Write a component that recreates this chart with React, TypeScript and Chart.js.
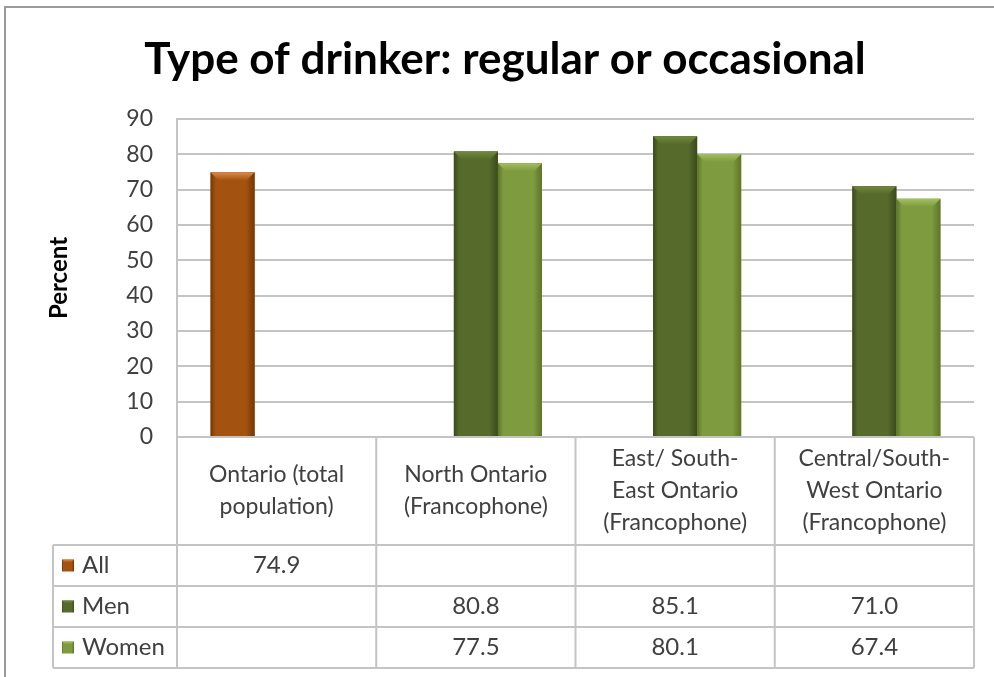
import React, { useEffect, useRef } from 'react';
import { Chart, registerables } from 'chart.js';

Chart.register(...registerables);

// ---- data ----
const chartTitle = 'Type of drinker: regular or occasional';
const yAxisTitle = 'Percent';
const categories: string[][] = [
  ['Ontario (total', 'population)'],
  ['North Ontario', '(Francophone)'],
  ['East/ South-', 'East Ontario', '(Francophone)'],
  ['Central/South-', 'West Ontario', '(Francophone)'],
];
const seriesNames = ['All', 'Men', 'Women'];
const allValues: (number | null)[] = [74.9, null, null, null];
const menValues: (number | null)[] = [null, 80.8, 85.1, 71.0];
const womenValues: (number | null)[] = [null, 77.5, 80.1, 67.4];
const yMin = 0;
const yMax = 90;
const yStep = 10;

// ---- styles ----
const baseColors = ['#A4520F', '#566A2C', '#7E9B3F'];
const topColors = ['#D98A4A', '#71893D', '#A2C060'];
const edgeColors = ['#733806', '#3A4A1C', '#5C7528'];
const textColor = '#404040';
const gridColor = '#C4C4C4';
const FONT = 'Lato, "Open Sans", sans-serif';

function drawBevel(ctx: CanvasRenderingContext2D, left: number, top: number, right: number, bottom: number, idx: number) {
  const w = right - left;
  if (w <= 0 || bottom - top <= 0) return;
  ctx.save();
  const g = ctx.createLinearGradient(left, 0, right, 0);
  g.addColorStop(0, edgeColors[idx]);
  g.addColorStop(0.12, baseColors[idx]);
  g.addColorStop(0.8, baseColors[idx]);
  g.addColorStop(1, edgeColors[idx]);
  ctx.fillStyle = g;
  ctx.fillRect(left, top, w, bottom - top);
  const bev = Math.min(8, (bottom - top) / 2, w / 4);
  const tg = ctx.createLinearGradient(0, top, 0, top + bev);
  tg.addColorStop(0, topColors[idx]);
  tg.addColorStop(1, baseColors[idx]);
  ctx.beginPath();
  ctx.moveTo(left, top);
  ctx.lineTo(right, top);
  ctx.lineTo(right - bev, top + bev);
  ctx.lineTo(left + bev, top + bev);
  ctx.closePath();
  ctx.fillStyle = tg;
  ctx.fill();
  ctx.restore();
}

const decorPlugin = {
  id: 'decor',
  beforeDraw(chart: any) {
    const ctx: CanvasRenderingContext2D = chart.ctx;
    ctx.save();
    ctx.fillStyle = '#ffffff';
    ctx.fillRect(0, 0, chart.width, chart.height);
    ctx.strokeStyle = '#9A9A9A';
    ctx.lineWidth = 2;
    ctx.beginPath();
    ctx.moveTo(5, chart.height + 5);
    ctx.lineTo(5, 7);
    ctx.lineTo(chart.width + 5, 7);
    ctx.stroke();
    ctx.restore();
  },
  afterDatasetsDraw(chart: any) {
    const ctx: CanvasRenderingContext2D = chart.ctx;
    chart.data.datasets.forEach((ds: any, di: number) => {
      const meta = chart.getDatasetMeta(di);
      meta.data.forEach((el: any, i: number) => {
        if (ds.data[i] == null) return;
        const p = el.getProps(['x', 'y', 'base', 'width'], true);
        drawBevel(ctx, p.x - p.width / 2, p.y, p.x + p.width / 2, p.base, di);
      });
    });
  },
  afterDraw(chart: any) {
    const ctx: CanvasRenderingContext2D = chart.ctx;
    const area = chart.chartArea;
    const xs = chart.scales.x;
    const n = categories.length;
    const colW = (area.right - area.left) / n;
    const bounds: number[] = [];
    for (let i = 0; i < n; i++) bounds.push(xs.getPixelForValue(i) - colW / 2);
    bounds.push(xs.getPixelForValue(n - 1) + colW / 2);

    const headerTop = area.bottom;
    const headerBottom = 545;
    const rowH = 41;
    const rowTops = [headerBottom, headerBottom + rowH, headerBottom + 2 * rowH];
    const tableBottom = headerBottom + 3 * rowH;
    const tableLeft = 53;

    ctx.save();
    // title
    ctx.fillStyle = '#000000';
    ctx.font = `bold 44px ${FONT}`;
    ctx.textAlign = 'center';
    ctx.textBaseline = 'middle';
    ctx.fillText(chartTitle, 505, 60);

    // y axis title
    ctx.save();
    ctx.translate(59, (area.top + area.bottom) / 2);
    ctx.rotate(-Math.PI / 2);
    ctx.font = `bold 24px ${FONT}`;
    ctx.fillStyle = '#000000';
    ctx.fillText(yAxisTitle, 0, 0);
    ctx.restore();

    // table lines
    ctx.strokeStyle = gridColor;
    ctx.lineWidth = 2;
    ctx.beginPath();
    bounds.forEach((b) => {
      ctx.moveTo(b, headerTop);
      ctx.lineTo(b, tableBottom);
    });
    ctx.moveTo(tableLeft, headerBottom);
    ctx.lineTo(tableLeft, tableBottom);
    [headerBottom, headerBottom + rowH, headerBottom + 2 * rowH, tableBottom].forEach((y) => {
      ctx.moveTo(tableLeft, y);
      ctx.lineTo(bounds[n], y);
    });
    ctx.stroke();

    // header labels
    ctx.fillStyle = textColor;
    ctx.font = `23px ${FONT}`;
    const lh = 32;
    const hc = (headerTop + headerBottom) / 2;
    categories.forEach((lines, i) => {
      const cx = (bounds[i] + bounds[i + 1]) / 2;
      const y0 = hc - ((lines.length - 1) * lh) / 2;
      lines.forEach((ln, j) => ctx.fillText(ln, cx, y0 + j * lh));
    });

    // rows
    const seriesData = [allValues, menValues, womenValues];
    ctx.font = `24px ${FONT}`;
    seriesNames.forEach((name, r) => {
      const cy = rowTops[r] + rowH / 2;
      drawBevel(ctx, 62, cy - 6, 74, cy + 6, r);
      ctx.textAlign = 'left';
      ctx.fillStyle = textColor;
      ctx.fillText(name, 82, cy);
      ctx.textAlign = 'center';
      seriesData[r].forEach((v, i) => {
        if (v == null) return;
        ctx.fillText(v.toFixed(1), (bounds[i] + bounds[i + 1]) / 2, cy);
      });
    });
    ctx.restore();
  },
};

export default function App() {
  const ref = useRef<HTMLCanvasElement | null>(null);
  useEffect(() => {
    if (!ref.current) return;
    const chart = new Chart(ref.current, {
      type: 'bar',
      data: {
        labels: categories.map((c) => c.join(' ')),
        datasets: [
          { label: seriesNames[0], data: allValues, backgroundColor: baseColors[0] },
          { label: seriesNames[1], data: menValues, backgroundColor: baseColors[1] },
          { label: seriesNames[2], data: womenValues, backgroundColor: baseColors[2] },
        ],
      },
      options: {
        responsive: false,
        animation: false,
        categoryPercentage: 0.663,
        barPercentage: 1,
        layout: { padding: { top: 119, right: 20, bottom: 240, left: 0 } },
        plugins: { legend: { display: false }, title: { display: false }, tooltip: { enabled: false } },
        scales: {
          x: { display: false },
          y: {
            min: yMin,
            max: yMax,
            ticks: { stepSize: yStep, color: textColor, font: { family: FONT, size: 23 }, padding: 24 },
            grid: { color: gridColor, lineWidth: 2, drawTicks: false },
            border: { display: true, color: gridColor, width: 2 },
            afterFit: (s: any) => { s.width = 177; },
          },
        },
      },
      plugins: [decorPlugin],
    } as any);
    return () => chart.destroy();
  }, []);
  return (
    <div style={{ position: 'fixed', left: 0, top: 0, width: 994, height: 677, background: '#fff' }}>
      <canvas ref={ref} width={994} height={677} style={{ display: 'block' }} />
    </div>
  );
}
